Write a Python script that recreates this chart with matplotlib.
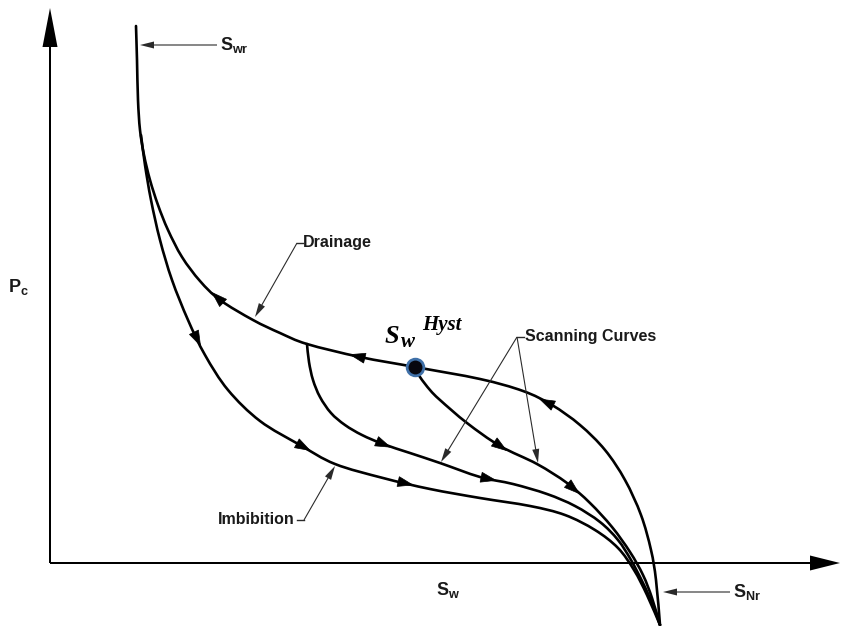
import numpy as np
import matplotlib
matplotlib.use('Agg')
import matplotlib.pyplot as plt
from matplotlib.path import Path
from matplotlib.patches import PathPatch

# Capillary pressure hysteresis sketch (arbitrary units, origin at axes corner)
# curves are listed in the direction of flow
drain_sw = [610, 606, 601, 591, 575, 555, 530, 502, 473, 430, 365, 310, 257, 230,
            203, 170, 150, 132, 118, 108, 100, 94, 90, 88, 87, 86]
drain_pc = [-62, -17, 13, 48, 83, 113, 138, 158, 172, 184, 196, 206, 219, 230,
            243, 263, 282, 306, 333, 358, 383, 408, 433, 463, 503, 537]

imb_sw = [91, 95, 101, 110, 122, 138, 155, 178, 210, 250, 285, 333, 380, 430,
          480, 515, 545, 568, 584, 597, 610]
imb_pc = [428, 398, 363, 323, 283, 243, 208, 173, 142, 118, 99, 85, 74, 65,
          57, 48, 33, 15, -7, -32, -62]

scan1_sw = [257, 259, 263, 270, 281, 295, 312, 333, 360, 390, 430, 463, 497,
            525, 550, 568, 581, 593, 602, 610]
scan1_pc = [219, 201, 183, 166, 150, 138, 128, 119, 110, 100, 86, 79, 69,
            57, 41, 23, 3, -20, -40, -62]

scan2_sw = [365, 370, 380, 390, 417, 450, 487, 517, 540, 562, 580, 593, 602, 610]
scan2_pc = [196, 186, 173, 163, 140, 117, 99, 80, 60, 36, 11, -12, -35, -62]

hyst_sw, hyst_pc = 365, 196

# where the flow arrowheads sit on each curve (S_w position)
drain_arrows = [497, 308, 168]
imb_arrows = [147, 253, 355]
scan1_arrows = [333, 438]
scan2_arrows = [450, 523]

fig = plt.figure(figsize=(8.44, 6.26), dpi=100)
ax = fig.add_axes([0, 0, 1, 1])
ax.set_xlim(-50, 794)
ax.set_ylim(-63, 563)
ax.axis('off')

label_font = {'family': 'Liberation Sans', 'weight': 'bold', 'color': '#1a1a1a'}


def smooth_curve(xs, ys):
    # cubic bezier path through the read points (Catmull-Rom tangents)
    p = np.column_stack([xs, ys]).astype(float)
    n = len(p)
    verts = [p[0]]
    codes = [Path.MOVETO]
    for i in range(n - 1):
        p0 = p[max(i - 1, 0)]
        p1, p2 = p[i], p[i + 1]
        p3 = p[min(i + 2, n - 1)]
        verts += [p1 + (p2 - p0) / 6, p2 - (p3 - p1) / 6, p2]
        codes += [Path.CURVE4] * 3
    ax.add_patch(PathPatch(Path(verts, codes), fc='none', ec='black', lw=1.9,
                           capstyle='round', zorder=3))


def curve_arrow(xs, ys, at_x):
    for i in range(len(xs) - 1):
        lo, hi = sorted((xs[i], xs[i + 1]))
        if lo <= at_x <= hi and hi > lo:
            t = (at_x - xs[i]) / (xs[i + 1] - xs[i])
            px = xs[i] + t * (xs[i + 1] - xs[i])
            py = ys[i] + t * (ys[i + 1] - ys[i])
            d = np.array([xs[i + 1] - xs[i], ys[i + 1] - ys[i]], dtype=float)
            d /= np.hypot(*d)
            ax.arrow(px - 7 * d[0], py - 7 * d[1], 15 * d[0], 15 * d[1],
                     width=0, head_width=10, head_length=15,
                     length_includes_head=True, fc='black', ec='black', lw=0.5, zorder=4)
            return


for xs, ys, arrows in [(drain_sw, drain_pc, drain_arrows),
                       (imb_sw, imb_pc, imb_arrows),
                       (scan1_sw, scan1_pc, scan1_arrows),
                       (scan2_sw, scan2_pc, scan2_arrows)]:
    smooth_curve(xs, ys)
    for a in arrows:
        curve_arrow(xs, ys, a)

# axes with arrowheads
ax.arrow(0, 0, 790, 0, width=2, head_width=15, head_length=30,
         length_includes_head=True, fc='black', lw=0, zorder=2)
ax.arrow(0, 0, 0, 555, width=2, head_width=15, head_length=39,
         length_includes_head=True, fc='black', lw=0, zorder=2)

# hysteresis point
ax.plot(hyst_sw, hyst_pc, 'o', ms=12, mfc='#07070f', mec='#3f70a8', mew=2, zorder=5)
ax.text(335, 220, 'S', fontsize=19, family='Liberation Serif', style='italic',
        weight='bold', va='baseline')
ax.text(351, 216, 'w', fontsize=15, family='Liberation Serif', style='italic',
        weight='bold', va='baseline')
ax.text(372, 233, 'Hyst', fontsize=15, family='Liberation Serif', style='italic',
        weight='bold', va='baseline')


def leader(x0, y0, x1, y1):
    ax.arrow(x0, y0, x1 - x0, y1 - y0, width=1.1, head_width=7, head_length=14,
             length_includes_head=True, fc='#2a2a2a', lw=0, zorder=3)


# annotations
leader(167, 518, 90, 518)
ax.text(170, 518, r'$\mathregular{S_{wr}}$', fontsize=13, va='center', fontdict=label_font)

ax.plot([247, 253], [320, 320], color='#2a2a2a', lw=1)
leader(247, 320, 205, 246)
ax.text(253, 320, 'Drainage', fontsize=11.5, va='center', fontdict=label_font)

ax.plot([467, 474], [226, 226], color='#2a2a2a', lw=1)
leader(467, 226, 391, 101)
leader(467, 226, 488, 100)
ax.text(475, 226, 'Scanning Curves', fontsize=11.5, va='center', fontdict=label_font)

ax.plot([247, 254], [43, 43], color='#2a2a2a', lw=1)
leader(254, 43, 285, 97)
ax.text(245, 43, 'Imbibition', fontsize=11.5, ha='right', va='center', fontdict=label_font)

leader(680, -29, 613, -29)
ax.text(683, -29, r'$\mathregular{S_{Nr}}$', fontsize=13, va='center', fontdict=label_font)

ax.text(-32, 276, r'$\mathregular{P_{c}}$', fontsize=13, va='center', ha='center', fontdict=label_font)
ax.text(398, -27, r'$\mathregular{S_{w}}$', fontsize=13, va='center', ha='center', fontdict=label_font)

plt.savefig('out.png', dpi=100)
